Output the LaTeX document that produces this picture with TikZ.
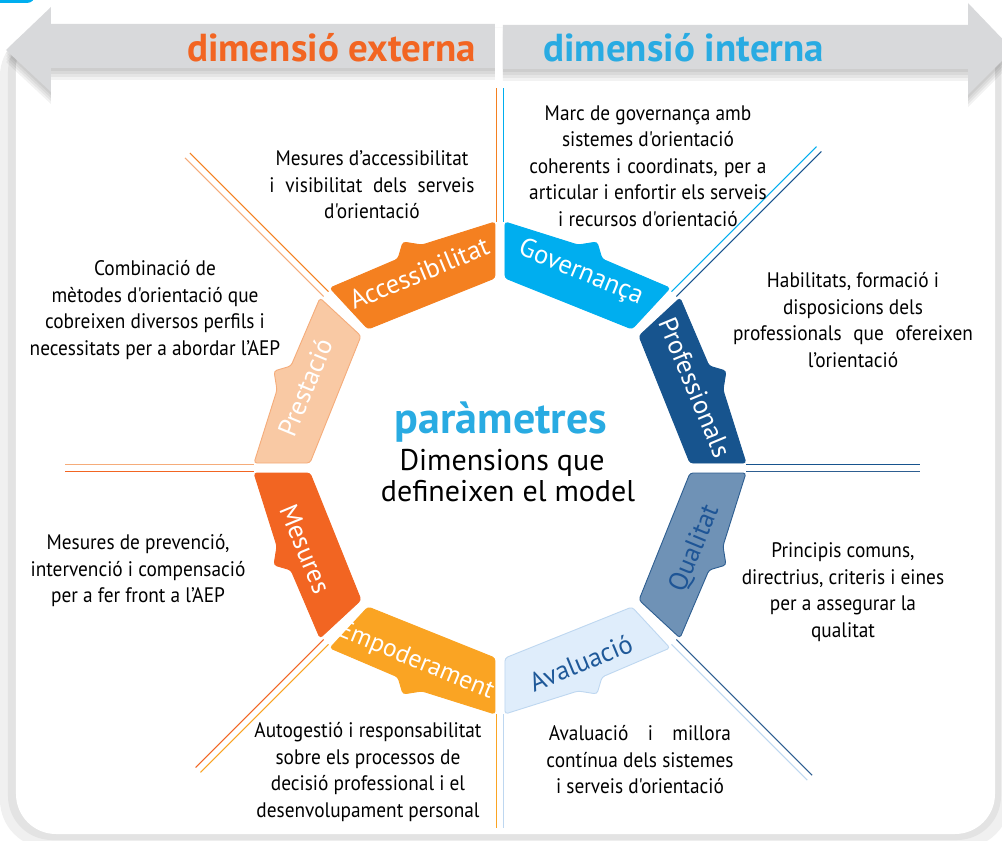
\documentclass[tikz,border=0pt]{standalone}
\usepackage{fontspec}
\setmainfont{PT Sans}
\newfontfamily\condf[FakeStretch=0.92,Ligatures=TeXOff]{PT Sans}
\usetikzlibrary{calc}
\definecolor{accc}{RGB}{244,128,32}
\definecolor{govc}{RGB}{0,174,239}
\definecolor{profc}{RGB}{23,84,142}
\definecolor{qualc}{RGB}{111,146,182}
\definecolor{qualb}{RGB}{46,94,145}
\definecolor{qualt}{RGB}{30,85,150}
\definecolor{avalc}{RGB}{223,237,251}
\definecolor{avalb}{RGB}{190,215,240}
\definecolor{avalt}{RGB}{31,89,153}
\definecolor{empc}{RGB}{250,164,35}
\definecolor{mesc}{RGB}{242,101,34}
\definecolor{prestc}{RGB}{249,201,164}
\definecolor{prestb}{RGB}{245,172,122}
\definecolor{extc}{RGB}{242,101,34}
\definecolor{intc}{RGB}{41,171,226}
\definecolor{bannerc}{RGB}{216,217,219}
\begin{document}
\begin{tikzpicture}[x=1pt,y=1pt,
  lab/.style={font=\fontsize{26.5}{26.5}\selectfont, text=white, inner sep=0pt},
  body/.style={font=\condf\fontsize{21}{26.5}\selectfont, align=center, inner sep=0pt, text=black},
  divl/.style={line width=1.1pt},
  arrowshape/.style={fill=bannerc}]
\useasboundingbox (-500,-373) rectangle (502,468);
\begin{scope}
\clip (-500,-373) rectangle (502,468);
% panel with soft shadow
\fill[black!6, rounded corners=48pt] (-500,-380) rectangle (510,440);
\fill[black!11, rounded corners=44pt] (-492,-372) rectangle (501,440);
\fill[white, rounded corners=40pt] (-484,-366) rectangle (495,440);
% small blue corner mark
\fill[govc, rounded corners=8pt] (-530,490) rectangle (-465,465);
% banner shadow
\foreach \s in {3,6,9,12}{
  \fill[black, opacity=0.05] (-494,418-\s) -- (-449,461-\s) -- (-449,444-\s) -- (-5,444-\s) -- (-5,400-\s) -- (-449,400-\s) -- (-449,376-\s) -- cycle;
  \fill[black, opacity=0.05] (3,443-\s) -- (468,443-\s) -- (468,465-\s) -- (513,418-\s) -- (468,373-\s) -- (468,399-\s) -- (3,399-\s) -- cycle;
}
% banner arrows
\fill[arrowshape] (-494,418) -- (-449,461) -- (-449,444) -- (-5,444) -- (-5,400) -- (-449,400) -- (-449,376) -- cycle;
\fill[arrowshape] (3,443) -- (468,443) -- (468,465) -- (513,418) -- (468,373) -- (468,399) -- (3,399) -- cycle;
\end{scope}
\node[anchor=base east, text=extc, font=\bfseries\fontsize{39}{39}\selectfont, inner sep=0pt] (ext) at (-24,406) {dimensió externa};
\node[anchor=base west, text=intc, font=\bfseries\fontsize{39}{39}\selectfont, inner sep=0pt] (int) at (43,406) {dimensió interna};
% divider lines
\foreach \ang/\len/\ca/\cb in {0/420/profc/qualb, 45/451/govc/profc, 90/380/accc/govc, 135/442/prestb/accc, 180/435/mesc/prestb, 225/427/empc/mesc, 270/360/avalb/empc, 315/438/qualb/avalb}{
  \draw[divl,\ca] ($(\ang:246)+(\ang+90:3.5)$) -- ($(\ang:\len)+(\ang+90:3.5)$);
  \draw[divl,\cb] ($(\ang:246)+(\ang-90:3.5)$) -- ($(\ang:\len)+(\ang-90:3.5)$);
}
% segments
\foreach \a/\b/\c/\d/\fc/\dc in {1/0/0/1/govc/govc, -1/0/0/1/accc/accc, 0/1/1/0/profc/profc, 0/-1/1/0/qualc/qualb, 1/0/0/-1/avalc/avalb, -1/0/0/-1/empc/empc, 0/1/-1/0/prestc/prestb, 0/-1/-1/0/mesc/mesc}{
  \begin{scope}[cm={\a,\b,\c,\d,(0,0)}]
  \filldraw[fill=\fc, draw=\dc, line width=0.9pt, rounded corners=3pt] (5,190) -- (5,246) -- (78,223) -- (97,226) -- (102,209) -- (170,180) -- (132,139) -- cycle;
  \end{scope}
}
% segment labels
\node[lab, rotate=22.5] (lacc) at (112.5:211) {Accessibilitat};
\node[lab, rotate=-22.5] (lgov) at (67.5:211) {Governança};
\node[lab, rotate=-67.5] (lprof) at (22.5:211) {Professionals};
\node[lab, rotate=67.5, text=qualt] (lqual) at (-22.5:211) {Qualitat};
\node[lab, rotate=22.5, text=avalt] (laval) at (-67.5:211) {Avaluació};
\node[lab, rotate=-22.5, font=\fontsize{25.5}{25.5}\selectfont] (lemp) at ($(-112.5:211)+(-3.5,1.5)$) {Empoderament};
\node[lab, rotate=-67.5] (lmes) at (-157.5:211) {Mesures};
\node[lab, rotate=67.5] (lprest) at (157.5:211) {Prestació};
% centre
\node[anchor=base, text=intc, font=\bfseries\fontsize{44}{44}\selectfont, inner sep=0pt] (param) at (1,35) {paràmetres};
\node[anchor=base, font=\fontsize{30}{30}\selectfont, inner sep=0pt] (dim1) at (2,-2) {Dimensions que};
\node[anchor=base, font=\fontsize{30}{30}\selectfont, inner sep=0pt] (dim2) at (8,-33) {defineixen el model};
% descriptions
\node[body] (t1) at (-128,283) {Mesures d’accessibilitat\\ \makebox[205pt][s]{i visibilitat dels serveis}\\ d'orientació};
\node[body] (t2) at (148,302) {Marc de governança amb\\ sistemes d'orientació\\ \makebox[237pt][s]{coherents i coordinats, per a}\\ articular i enfortir els serveis\\ i recursos d'orientació};
\node[body] (t3) at (353,148) {Habilitats, formació i\\ disposicions dels\\ \makebox[240pt][s]{professionals que ofereixen}\\ l’orientació};
\node[body] (t4) at (343,-124) {Principis comuns,\\ directrius, criteris i eines\\ per a assegurar la\\ qualitat};
\node[body] (t5) at (140,-292) {\makebox[182pt][s]{Avaluació i millora}\\ contínua dels sistemes\\ i serveis d'orientació};
\node[body] (t6) at (-132,-304) {Autogestió i responsabilitat\\ sobre els processos de\\ decisió professional i el\\ desenvolupament personal};
\node[body] (t7) at (-362,-103) {Mesures de prevenció,\\ intervenció i compensació\\ per a fer front a l’AEP};
\node[body] (t8) at (-345,158) {Combinació de\\ mètodes d'orientació que\\ cobreixen diversos perfils i\\ necessitats per a abordar l’AEP};
\end{tikzpicture}
\end{document}
